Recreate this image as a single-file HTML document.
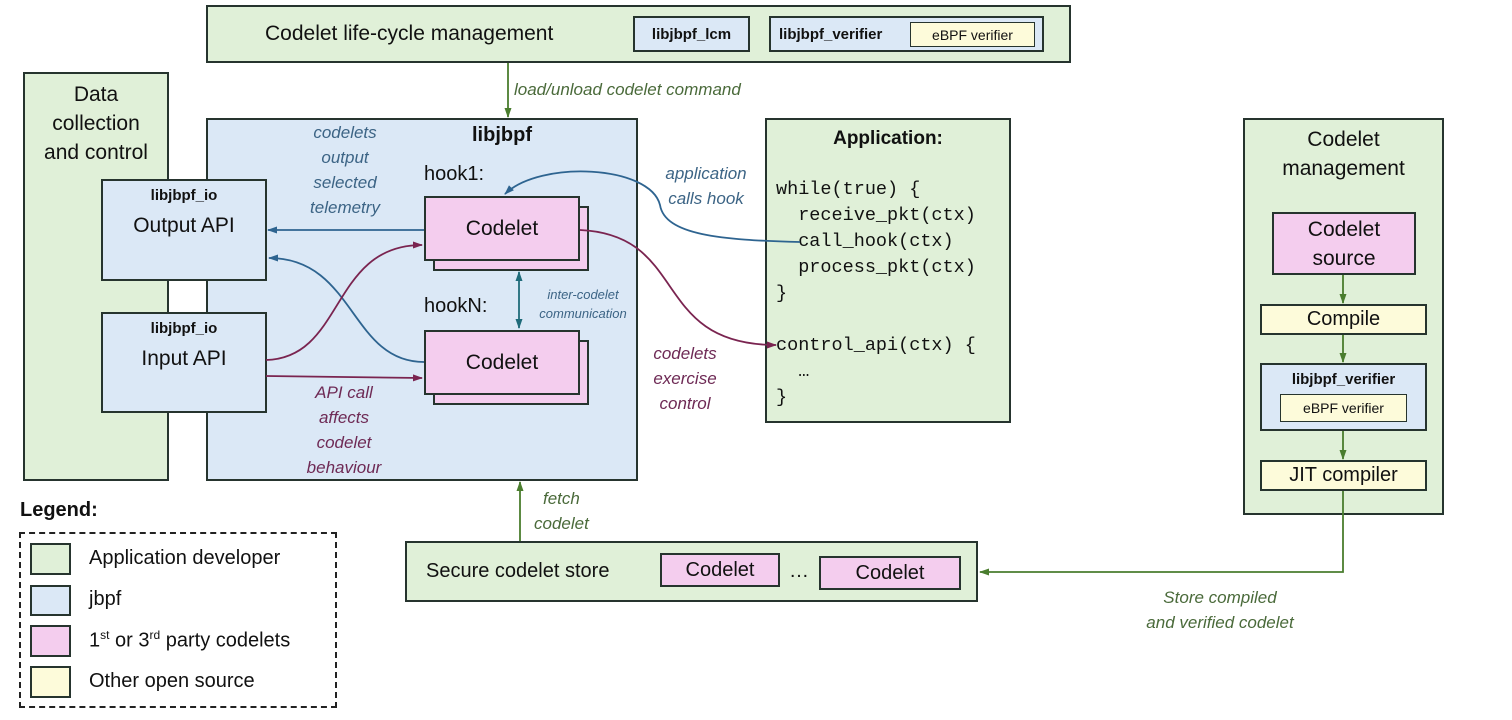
<!DOCTYPE html>
<html><head><meta charset="utf-8"><style>
body{margin:0;width:1512px;height:720px;background:#fff;position:relative;overflow:hidden;font-family:"Liberation Sans",sans-serif;color:#111}
.b{position:absolute;box-sizing:border-box;border:2px solid #26342e;display:flex;align-items:center;justify-content:center;text-align:center}
.g{background:#e0f0d8}.bl{background:#dbe8f6}.p{background:#f4cdee}.y{background:#fdfbda}
.t{position:absolute;white-space:nowrap}
.i{font-style:italic;font-size:17px;text-align:center;line-height:25px}
.m{position:absolute;font-family:"Liberation Mono",monospace;font-size:18.5px;line-height:26px;white-space:pre;text-align:left}
</style></head><body>
<div class="b g" style="left:206px;top:5px;width:865px;height:58px;justify-content:flex-start"><span style="font-size:21px;margin-left:57px">Codelet life-cycle management</span></div>
<div class="b bl" style="left:633px;top:16px;width:117px;height:36px;font-weight:bold;font-size:15px">libjbpf_lcm</div>
<div class="b bl" style="left:769px;top:16px;width:275px;height:36px;justify-content:flex-start"><b style="font-size:15px;margin-left:8px">libjbpf_verifier</b></div>
<div class="b y" style="left:910px;top:22px;width:125px;height:25px;font-size:14px;border-width:1.5px">eBPF verifier</div>

<div class="b g" style="left:23px;top:72px;width:146px;height:409px;align-items:flex-start;font-size:21px;line-height:29px;padding-top:6px">Data<br>collection<br>and control</div>
<div class="b bl" style="left:206px;top:118px;width:432px;height:363px;align-items:flex-start;padding-top:4px"><b style="font-size:20px;margin-left:160px">libjbpf</b></div>
<div class="b bl" style="left:101px;top:179px;width:166px;height:102px;flex-direction:column;justify-content:flex-start"><b style="font-size:15px;margin-top:6px">libjbpf_io</b><span style="font-size:21px;margin-top:10px">Output API</span></div>
<div class="b bl" style="left:101px;top:312px;width:166px;height:101px;flex-direction:column;justify-content:flex-start"><b style="font-size:15px;margin-top:6px">libjbpf_io</b><span style="font-size:21px;margin-top:10px">Input API</span></div>
<div class="t" style="left:424px;top:163px;font-size:20px">hook1:</div>
<div class="t" style="left:424px;top:295px;font-size:20px">hookN:</div>
<div class="b p" style="left:433px;top:206px;width:156px;height:65px"></div>
<div class="b p" style="left:424px;top:196px;width:156px;height:65px;font-size:21px">Codelet</div>
<div class="b p" style="left:433px;top:340px;width:156px;height:65px"></div>
<div class="b p" style="left:424px;top:330px;width:156px;height:65px;font-size:21px">Codelet</div>

<div class="b g" style="left:765px;top:118px;width:246px;height:305px;align-items:flex-start">
<b style="font-size:19px;margin-top:8px">Application:</b></div>
<div class="m" style="left:776px;top:177px">while(true) {
  receive_pkt(ctx)
  call_hook(ctx)
  process_pkt(ctx)
}

control_api(ctx) {
  …
}</div>

<div class="b g" style="left:1243px;top:118px;width:201px;height:397px;align-items:flex-start;font-size:21px;line-height:29px;padding-top:5px">Codelet<br>management</div>
<div class="b p" style="left:1272px;top:212px;width:144px;height:63px;font-size:21px;line-height:29px">Codelet<br>source</div>
<div class="b y" style="left:1260px;top:304px;width:167px;height:31px;font-size:20px">Compile</div>
<div class="b bl" style="left:1260px;top:363px;width:167px;height:68px;align-items:flex-start"><b style="font-size:15px;margin-top:6px">libjbpf_verifier</b></div>
<div class="b y" style="left:1280px;top:394px;width:127px;height:28px;font-size:14px;border-width:1.5px">eBPF verifier</div>
<div class="b y" style="left:1260px;top:460px;width:167px;height:31px;font-size:20px">JIT compiler</div>

<div class="b g" style="left:405px;top:541px;width:573px;height:61px;justify-content:flex-start"><span style="font-size:20px;margin-left:19px">Secure codelet store</span></div>
<div class="b p" style="left:660px;top:553px;width:120px;height:34px;font-size:20px">Codelet</div>
<div class="t" style="left:789px;top:560px;font-size:20px">…</div>
<div class="b p" style="left:819px;top:556px;width:142px;height:34px;font-size:20px">Codelet</div>

<div class="t" style="left:20px;top:499px;font-size:20px;font-weight:bold">Legend:</div>
<div style="position:absolute;left:19px;top:532px;width:318px;height:176px;box-sizing:border-box;border:2px dashed #222"></div>
<div class="b g" style="left:30px;top:543px;width:41px;height:32px"></div>
<div class="b bl" style="left:30px;top:585px;width:41px;height:31px"></div>
<div class="b p" style="left:30px;top:625px;width:41px;height:32px"></div>
<div class="b y" style="left:30px;top:666px;width:41px;height:32px"></div>
<div class="t" style="left:89px;top:547px;font-size:20px">Application developer</div>
<div class="t" style="left:89px;top:588px;font-size:20px">jbpf</div>
<div class="t" style="left:89px;top:628px;font-size:20px">1<sup style="font-size:12px">st</sup> or 3<sup style="font-size:12px">rd</sup> party codelets</div>
<div class="t" style="left:89px;top:670px;font-size:20px">Other open source</div>

<div class="t i" style="left:514px;top:77px;color:#4a6a3a">load/unload codelet command</div>
<div class="t i" style="left:296px;top:120px;color:#3c6485;width:98px">codelets<br>output<br>selected<br>telemetry</div>
<div class="t i" style="left:648px;top:161px;color:#3c6485;width:116px">application<br>calls hook</div>
<div class="t i" style="left:533px;top:285px;color:#3c6485;font-size:13px;line-height:19px;width:100px">inter-codelet<br>communication</div>
<div class="t i" style="left:294px;top:380px;color:#6e2a55;width:100px">API call<br>affects<br>codelet<br>behaviour</div>
<div class="t i" style="left:650px;top:341px;color:#6e2a55;width:70px">codelets<br>exercise<br>control</div>
<div class="t i" style="left:534px;top:486px;color:#4a6a3a">fetch<br>codelet</div>
<div class="t i" style="left:1120px;top:585px;color:#4a6a3a;width:200px">Store compiled<br>and verified codelet</div>

<svg width="1512" height="720" style="position:absolute;left:0;top:0">
<defs>
<marker id="ag" markerUnits="userSpaceOnUse" markerWidth="10" markerHeight="10" refX="9" refY="5" orient="auto"><path d="M0,1.5 L10,5 L0,8.5z" fill="#4a7d2e"/></marker>
<marker id="ab" markerUnits="userSpaceOnUse" markerWidth="10" markerHeight="10" refX="9" refY="5" orient="auto"><path d="M0,1.5 L10,5 L0,8.5z" fill="#2e6490"/></marker>
<marker id="ap" markerUnits="userSpaceOnUse" markerWidth="10" markerHeight="10" refX="9" refY="5" orient="auto"><path d="M0,1.5 L10,5 L0,8.5z" fill="#7a2450"/></marker>
<marker id="at" markerUnits="userSpaceOnUse" markerWidth="10" markerHeight="10" refX="9" refY="5" orient="auto-start-reverse"><path d="M0,1.5 L10,5 L0,8.5z" fill="#1f6b7a"/></marker>
</defs>
<g fill="none" stroke-width="1.8">
<path d="M508,63 V117" stroke="#4a7d2e" marker-end="url(#ag)"/>
<path d="M520,541 V482" stroke="#4a7d2e" marker-end="url(#ag)"/>
<path d="M1343,275 V303" stroke="#4a7d2e" marker-end="url(#ag)"/>
<path d="M1343,335 V362" stroke="#4a7d2e" marker-end="url(#ag)"/>
<path d="M1343,431 V459" stroke="#4a7d2e" marker-end="url(#ag)"/>
<path d="M1343,491 V572 H980" stroke="#4a7d2e" marker-end="url(#ag)"/>
<path d="M424,230 H268" stroke="#2e6490" marker-end="url(#ab)"/>
<path d="M424,362 C350,362 355,258 269,258" stroke="#2e6490" marker-end="url(#ab)"/>
<path d="M800,242 C720,240 665,235 660,205 C650,165 540,160 505,194" stroke="#2e6490" marker-end="url(#ab)"/>
<path d="M266,360 C345,358 330,245 422,245" stroke="#7a2450" marker-end="url(#ap)"/>
<path d="M266,376 L422,378" stroke="#7a2450" marker-end="url(#ap)"/>
<path d="M580,230 C690,235 650,345 776,345" stroke="#7a2450" marker-end="url(#ap)"/>
<path d="M519,272 V328" stroke="#1f6b7a" marker-start="url(#at)" marker-end="url(#at)"/>
</g>
</svg>
</body></html>
